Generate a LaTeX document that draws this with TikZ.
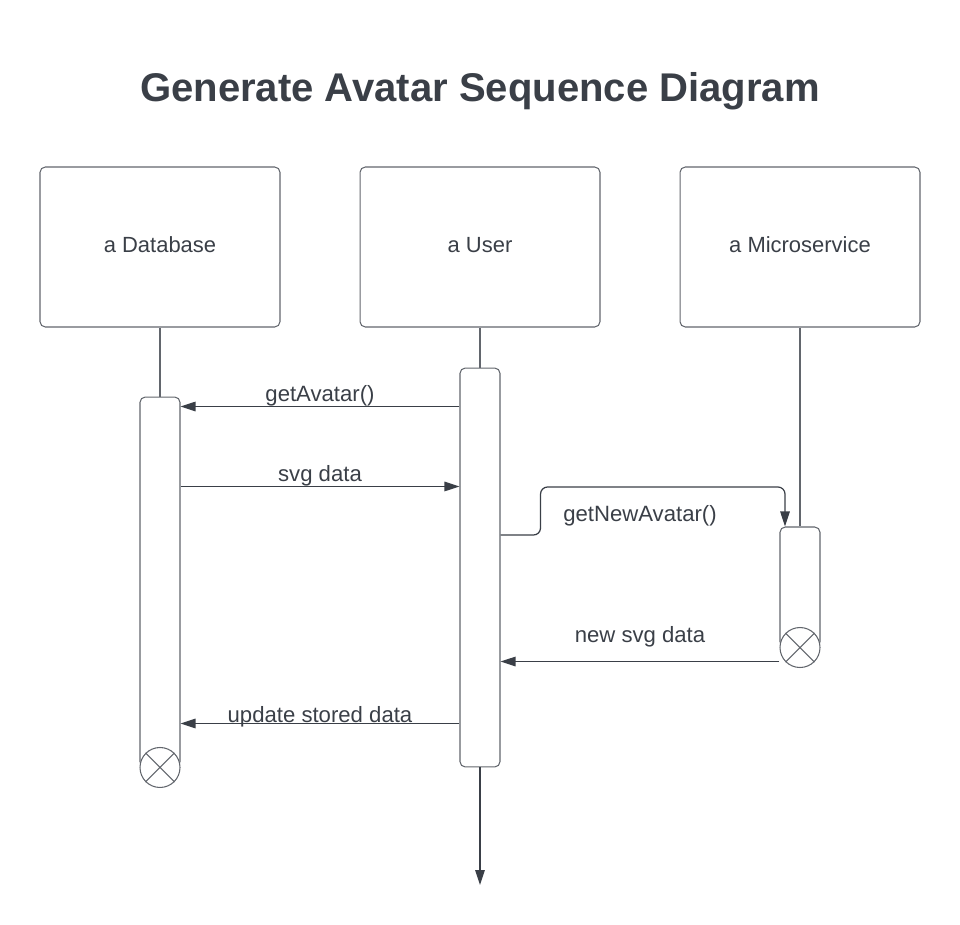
\documentclass[tikz,border=0pt]{standalone}
\usepackage{fontspec}
\setmainfont{Liberation Sans}
\usetikzlibrary{positioning, arrows.meta}
\definecolor{ink}{HTML}{3A3F47}
\definecolor{edge}{HTML}{62666D}

\begin{document}
\begin{tikzpicture}[x=0.02cm, y=-0.02cm,
    actor/.style={draw=edge, line width=0.6pt, rounded corners=3pt,
        minimum width=4.8cm, minimum height=3.2cm, text=ink,
        font=\fontsize{12.5}{15}\selectfont},
    bar/.style={draw=edge, fill=white, line width=0.6pt, rounded corners=3pt,
        minimum width=0.8cm, inner sep=0pt},
    killx/.style={draw=edge, fill=white, circle, line width=0.6pt,
        minimum size=0.8cm, inner sep=0pt},
    msg/.style={draw=ink, line width=0.7pt, -{Triangle[length=0.3cm, width=0.19cm]}},
    lbl/.style={text=ink, font=\fontsize{12.6}{15}\selectfont, inner sep=0pt}]
    \useasboundingbox (0,0) rectangle (960,925);

    \node[text=ink, font=\fontsize{22.8}{27}\bfseries\selectfont] (title) at (480,91)
        {Generate Avatar Sequence Diagram};

    % Participants
    \node[actor, text depth=0.5ex] (db) at (160,247) {a Database};
    \node[actor, text depth=0.5ex] (user) at (480,247) {a User};
    \node[actor, text depth=0.5ex] (ms) at (800,247) {a Microservice};

    % Activation bars
    \node[bar, minimum height=7.4cm] (dbbar) at (160,582) {};
    \node[bar, minimum height=7.98cm] (userbar) at (480,567.5) {};
    \node[bar, minimum height=2.4cm] (msbar) at (800,587) {};

    % Lifelines
    \draw[edge, line width=0.6pt] (db.south) -- (dbbar.north);
    \draw[edge, line width=0.6pt] (user.south) -- (userbar.north);
    \draw[edge, line width=0.6pt] (ms.south) -- (msbar.north);
    \coordinate (userend) at (480,885);
    \draw[msg] (userbar.south) -- (userend);

    % Destruction marks
    \node[killx] (dbx) at (dbbar.south) {};
    \draw[edge, line width=0.6pt] (dbx.north west) -- (dbx.south east)
        (dbx.north east) -- (dbx.south west);
    \node[killx] (msx) at (msbar.south) {};
    \draw[edge, line width=0.6pt] (msx.north west) -- (msx.south east)
        (msx.north east) -- (msx.south west);

    % Messages
    \draw[msg] ([yshift=-0.78cm]userbar.north west) coordinate (m1) -- (dbbar.east |- m1)
        node[lbl, midway, above] {getAvatar()};
    \draw[msg] ([yshift=-1.8cm]dbbar.north east) coordinate (m2) -- (userbar.west |- m2)
        node[lbl, midway, above] {svg data};
    \draw[msg, rounded corners=4pt] ([yshift=0.65cm]userbar.east) -- ++(40,0) -- ++(0,-48)
        -| ([xshift=-0.3cm]msbar.north);
    \node[lbl] (m3) at (640,516) {getNewAvatar()};
    \draw[msg] ([yshift=-0.28cm]msbar.south west) coordinate (m4) -- (userbar.east |- m4)
        node[lbl, midway, above, yshift=0.28cm] {new svg data};
    \draw[msg] ([yshift=0.88cm]userbar.south west) coordinate (m5) -- (dbbar.east |- m5)
        node[lbl, midway, above, yshift=-0.08cm] {update stored data};
\end{tikzpicture}
\end{document}
